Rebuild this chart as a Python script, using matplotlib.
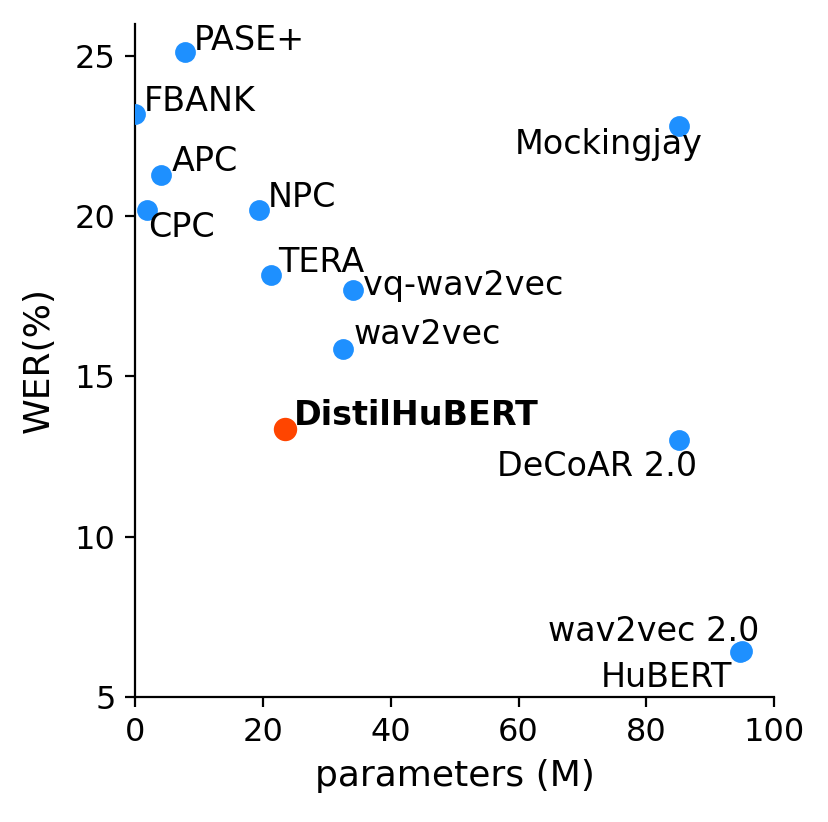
import matplotlib
matplotlib.use("Agg")
import matplotlib.pyplot as plt

# models, size (M params) and WER (%)
names = ["FBANK", "PASE+", "APC", "CPC", "NPC", "TERA", "vq-wav2vec", "wav2vec",
         "Mockingjay", "DeCoAR 2.0", "wav2vec 2.0", "HuBERT"]
params = [0.0, 7.83, 4.11, 1.84, 19.38, 21.33, 34.15, 32.54, 85.12, 85.12, 94.9, 94.7]
wer = [23.18, 25.11, 21.28, 20.18, 20.20, 18.17, 17.71, 15.86, 22.82, 13.02, 6.43, 6.42]

distil_params = 23.49
distil_wer = 13.37

# label placement: offset in points + horizontal alignment
offsets = {
    "FBANK": ((3.2, 1.0), "left"),
    "PASE+": ((3.2, 0.7), "left"),
    "APC": ((3.6, 1.4), "left"),
    "CPC": ((0.4, -9.4), "left"),
    "NPC": ((3.2, 1.0), "left"),
    "TERA": ((2.5, 1.0), "left"),
    "vq-wav2vec": ((3.6, -1.8), "left"),
    "wav2vec": ((3.6, 1.8), "left"),
    "Mockingjay": ((8.3, -10.0), "right"),
    "DeCoAR 2.0": ((6.5, -13.0), "right"),
    "wav2vec 2.0": ((6.5, 3.6), "right"),
    "HuBERT": ((-2.9, -12.6), "right"),
}

fig = plt.figure(figsize=(829 / 200, 822 / 200), dpi=200)
ax = fig.add_axes([0.163, 0.152, 0.771, 0.819])

ax.scatter(params, wer, s=42, color="dodgerblue", zorder=3)
ax.scatter([distil_params], [distil_wer], s=55, color="orangered", zorder=3)

for n, x, y in zip(names, params, wer):
    (dx, dy), ha = offsets[n]
    ax.annotate(n, (x, y), xytext=(dx, dy), textcoords="offset points",
                ha=ha, va="baseline", fontsize=12)
ax.annotate("DistilHuBERT", (distil_params, distil_wer), xytext=(3.2, 1.4),
            textcoords="offset points", ha="left", va="baseline",
            fontsize=12, fontweight="bold")

ax.set_xlim(0, 100)
ax.set_ylim(5, 26)
ax.set_yticks([5, 10, 15, 20, 25])
ax.set_xticks([0, 20, 40, 60, 80, 100])
ax.tick_params(labelsize=11.5)
ax.set_xlabel("parameters (M)", fontsize=13)
ax.set_ylabel("WER(%)", fontsize=13, labelpad=7)
ax.spines["top"].set_visible(False)
ax.spines["right"].set_visible(False)

fig.savefig("out.png", dpi=200)
